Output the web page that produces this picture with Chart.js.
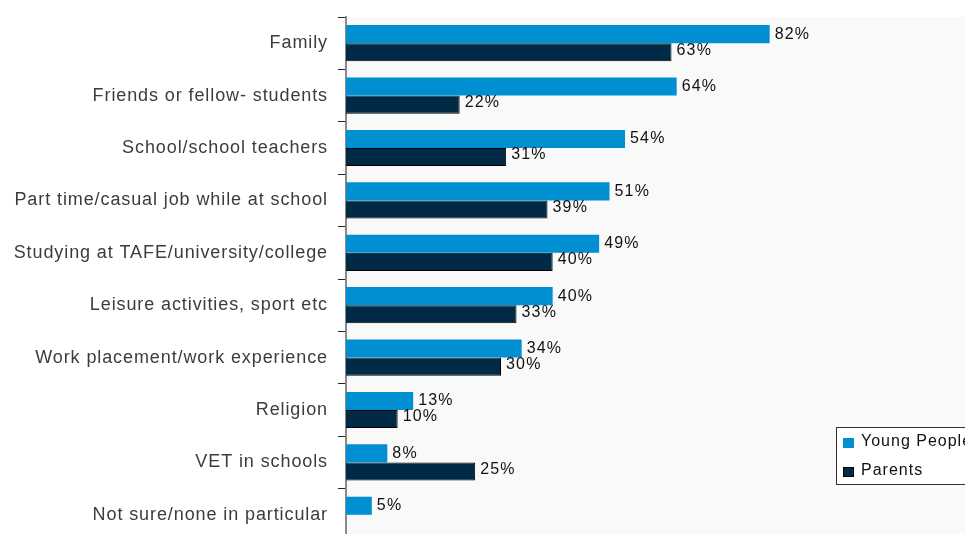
<!DOCTYPE html>
<html>
<head>
<meta charset="utf-8">
<script src="https://cdn.jsdelivr.net/npm/chart.js@4"></script>
<style>
  html, body { margin: 0; padding: 0; background: #ffffff; overflow: hidden; }
  #wrap { position: absolute; left: 0; top: 0; width: 975px; height: 545px; }
</style>
</head>
<body>
<div id="wrap"><canvas id="c" width="975" height="545"></canvas></div>
<script>
// Influences on career choices, % of respondents
const categories = [
  'Family',
  'Friends or fellow- students',
  'School/school teachers',
  'Part time/casual job while at school',
  'Studying at TAFE/university/college',
  'Leisure activities, sport etc',
  'Work placement/work experience',
  'Religion',
  'VET in schools',
  'Not sure/none in particular'
];
const youngPeople = [82, 64, 54, 51, 49, 40, 34, 13, 8, 5];
const parents = [63, 22, 31, 39, 40, 33, 30, 10, 25, null];
const seriesNames = ['Young People', 'Parents'];

const BLUE = '#008fd0';
const NAVY = '#002a45';

// light panel behind the bars
const panelBg = {
  id: 'panelBg',
  beforeDraw(chart) {
    const { ctx, chartArea: a } = chart;
    ctx.save();
    ctx.fillStyle = '#f9f9f9';
    ctx.fillRect(a.left, a.top, a.right - a.left, a.bottom - a.top);
    ctx.restore();
    // spaced-out lettering for the category labels
    ctx.letterSpacing = '0.9px';
  }
};

// "NN%" just past the end of every bar
const valueLabels = {
  id: 'valueLabels',
  afterDatasetsDraw(chart) {
    const ctx = chart.ctx;
    ctx.save();
    ctx.letterSpacing = '1.2px';
    ctx.font = '16px "Liberation Sans", Arial, sans-serif';
    ctx.fillStyle = '#111111';
    ctx.textAlign = 'left';
    ctx.textBaseline = 'middle';
    chart.data.datasets.forEach((ds, di) => {
      const meta = chart.getDatasetMeta(di);
      const dy = di === 0 ? 0 : -2;
      meta.data.forEach((bar, i) => {
        const v = ds.data[i];
        if (v === null || v === undefined) return;
        ctx.fillText(v + '%', bar.x + 5, bar.y + dy);
      });
    });
    ctx.restore();
  }
};

// boxed legend in the lower right
const boxLegend = {
  id: 'boxLegend',
  afterDraw(chart) {
    const ctx = chart.ctx;
    const x = 836.5, y = 427.5;
    ctx.save();
    ctx.letterSpacing = '1px';
    ctx.fillStyle = '#ffffff';
    ctx.fillRect(x, y, 200, 57);
    ctx.strokeStyle = '#333333';
    ctx.lineWidth = 1;
    ctx.strokeRect(x, y, 200, 57);
    ctx.font = '16px "Liberation Sans", Arial, sans-serif';
    ctx.textAlign = 'left';
    ctx.textBaseline = 'middle';
    chart.data.datasets.forEach((ds, i) => {
      const rowY = 443 + i * 29;
      ctx.fillStyle = ds.backgroundColor;
      ctx.fillRect(843, rowY - 5, 11, 10);
      if (ds.borderWidth) {
        ctx.strokeStyle = '#000000';
        ctx.strokeRect(843.5, rowY - 4.5, 10, 9);
      }
      ctx.fillStyle = '#111111';
      ctx.fillText(ds.label, 861, rowY - 1);
    });
    ctx.restore();
  }
};

new Chart(document.getElementById('c'), {
  type: 'bar',
  data: {
    labels: categories,
    datasets: [
      {
        label: seriesNames[0],
        data: youngPeople,
        backgroundColor: BLUE,
        borderWidth: 0
      },
      {
        label: seriesNames[1],
        data: parents,
        backgroundColor: NAVY,
        borderColor: '#000000',
        borderWidth: 1
      }
    ]
  },
  options: {
    indexAxis: 'y',
    responsive: false,
    animation: false,
    devicePixelRatio: 1,
    layout: { padding: { left: 0, top: 17, right: 9, bottom: 4 } },
    datasets: {
      bar: { categoryPercentage: 0.69, barPercentage: 1.0 }
    },
    plugins: {
      legend: { display: false },
      tooltip: { enabled: false }
    },
    scales: {
      x: {
        display: false,
        min: 0,
        max: 120
      },
      y: {
        afterFit(scale) {
          scale.width = 346;
          scale.paddingTop = 0;
          scale.paddingBottom = 0;
        },
        grid: {
          offset: true,
          drawOnChartArea: false,
          drawTicks: true,
          tickLength: 8,
          color: '#222222',
          lineWidth: 1
        },
        border: { display: true, color: '#8a8a8a', width: 2 },
        ticks: {
          padding: 10,
          color: '#3c3c3c',
          font: { family: '"Liberation Sans", Arial, sans-serif', size: 18 }
        }
      }
    }
  },
  plugins: [panelBg, valueLabels, boxLegend]
});
</script>
</body>
</html>
